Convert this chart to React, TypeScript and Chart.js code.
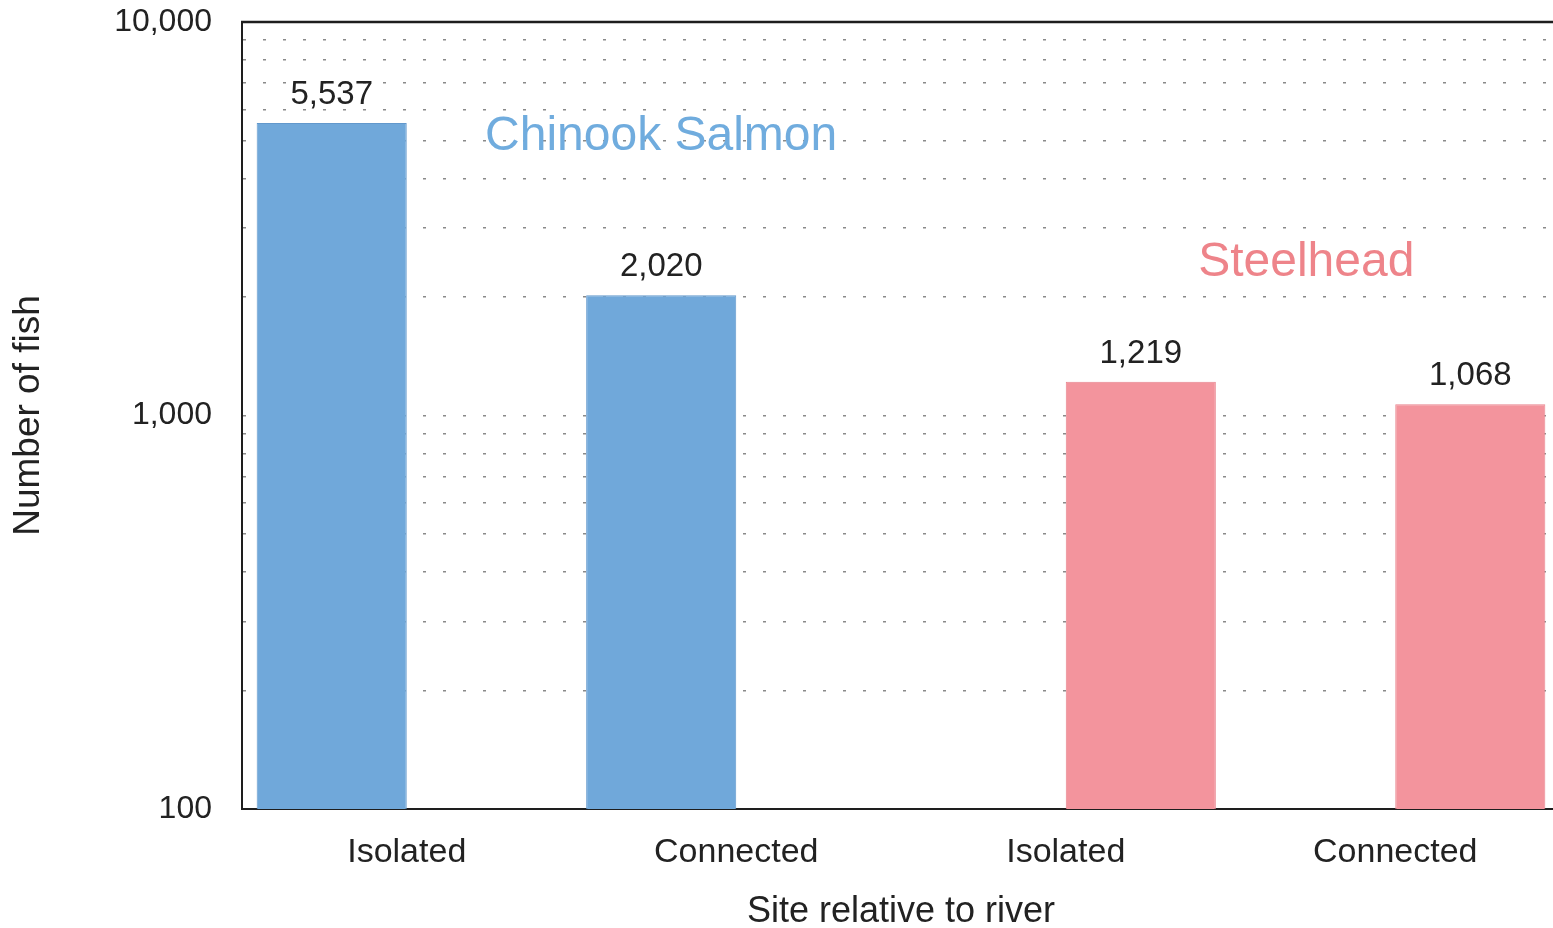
import React, { useEffect, useRef } from "react";
import { Chart, registerables } from "chart.js";

Chart.register(...registerables);

const FONT = '"Liberation Sans", Arial, Helvetica, sans-serif';

const SITE_LABELS = ["Isolated", "Connected", "Isolated", "Connected"];
const CHINOOK_COUNTS = [5537, 2020, null, null];
const STEELHEAD_COUNTS = [null, null, 1219, 1068];
const Y_GRID_VALUES = [
  100, 200, 300, 400, 500, 600, 700, 800, 900,
  1000, 2000, 3000, 4000, 5000, 6000, 7000, 8000, 9000,
  10000,
];
const Y_LABELED_VALUES = [100, 1000, 10000];
const SPECIES_NAMES = ["Chinook Salmon", "Steelhead"];

const BLUE_BAR = "rgb(112,168,218)";
const RED_BAR = "rgb(243,148,157)";
const BLUE_TEXT = "rgb(112,172,222)";
const RED_TEXT = "rgb(238,132,138)";

const valueLabelPlugin = {
  id: "valueLabels",
  afterDatasetsDraw(chart: any) {
    const { ctx } = chart;
    ctx.save();
    ctx.font = `33px ${FONT}`;
    ctx.fillStyle = "#222";
    ctx.textAlign = "center";
    ctx.textBaseline = "alphabetic";
    chart.data.datasets.forEach((ds: any, i: number) => {
      const meta = chart.getDatasetMeta(i);
      meta.data.forEach((bar: any, j: number) => {
        const v = ds.data[j];
        if (v === null || v === undefined) return;
        ctx.fillText(Number(v).toLocaleString("en-US"), bar.x, bar.y - 19);
      });
    });
    ctx.restore();
  },
};

const speciesLabelPlugin = {
  id: "speciesLabels",
  afterDatasetsDraw(chart: any, _args: any, opts: any) {
    const { ctx, scales } = chart;
    ctx.save();
    ctx.font = `48px ${FONT}`;
    ctx.textAlign = "center";
    ctx.textBaseline = "alphabetic";
    (opts.items || []).forEach((item: any) => {
      const x = scales.x.getPixelForValue(item.x);
      const y = scales.y.getPixelForValue(item.y);
      ctx.fillStyle = item.color;
      ctx.fillText(item.text, x, y);
    });
    ctx.restore();
  },
};

const topFramePlugin = {
  id: "topFrame",
  afterDatasetsDraw(chart: any) {
    const { ctx, chartArea } = chart;
    ctx.save();
    ctx.strokeStyle = "#1e1e1e";
    ctx.lineWidth = 2.5;
    ctx.beginPath();
    ctx.moveTo(chartArea.left - 1, chartArea.top);
    ctx.lineTo(chartArea.right, chartArea.top);
    ctx.stroke();
    ctx.restore();
  },
};

export default function App() {
  const canvasRef = useRef<HTMLCanvasElement | null>(null);

  useEffect(() => {
    if (!canvasRef.current) return;
    const chart = new Chart(canvasRef.current, {
      type: "bar",
      data: {
        labels: SITE_LABELS,
        datasets: [
          {
            label: SPECIES_NAMES[0],
            data: CHINOOK_COUNTS,
            backgroundColor: BLUE_BAR,
            borderColor: "rgb(98,152,204)",
            borderWidth: 1,
            categoryPercentage: 0.911,
            barPercentage: 1.0,
          },
          {
            label: SPECIES_NAMES[1],
            data: STEELHEAD_COUNTS,
            backgroundColor: RED_BAR,
            borderColor: "rgb(232,132,142)",
            borderWidth: 1,
            categoryPercentage: 0.911,
            barPercentage: 1.0,
          },
        ],
      },
      options: {
        responsive: false,
        animation: false,
        layout: { padding: { top: 22, right: 10, left: 0, bottom: 0 } },
        plugins: {
          legend: { display: false },
          tooltip: { enabled: false },
          speciesLabels: {
            items: [
              { text: SPECIES_NAMES[0], color: BLUE_TEXT, x: 0.772, y: 4727 },
              { text: SPECIES_NAMES[1], color: RED_TEXT, x: 2.73, y: 2262 },
            ],
          },
        } as any,
        scales: {
          x: {
            type: "category",
            grid: { display: false },
            border: { display: true, color: "#1e1e1e", width: 2 },
            ticks: {
              color: "#222",
              font: { family: FONT, size: 34 },
              padding: 15,
              maxRotation: 0,
              autoSkip: false,
            },
            title: {
              display: true,
              text: "Site relative to river",
              color: "#222",
              font: { family: FONT, size: 36, lineHeight: 0.9 },
              padding: { top: 0, bottom: 0 },
            },
            afterFit: (scale: any) => {
              scale.height = 119;
              scale.paddingLeft = 0;
              scale.paddingRight = 0;
            },
          },
          y: {
            type: "logarithmic",
            min: 100,
            max: 10000,
            afterBuildTicks: (scale: any) => {
              scale.ticks = Y_GRID_VALUES.map((v) => ({
                value: v,
                major: Y_LABELED_VALUES.includes(v),
              }));
            },
            grid: {
              drawTicks: false,
              lineWidth: 1.5,
              color: (ctx: any) =>
                ctx.tick && (ctx.tick.value === 100 || ctx.tick.value === 10000)
                  ? "rgba(0,0,0,0)"
                  : "#8a8a8a",
            },
            border: { display: true, color: "#1e1e1e", width: 2, dash: [3, 17] },
            ticks: {
              color: "#222",
              font: { family: FONT, size: 32 },
              padding: 30,
              autoSkip: false,
              callback: (value: any) =>
                Y_LABELED_VALUES.includes(Number(value))
                  ? Number(value).toLocaleString("en-US")
                  : "",
            },
            title: {
              display: true,
              text: "Number of fish",
              color: "#222",
              font: { family: FONT, size: 37, lineHeight: 1.2 },
              padding: { top: 7, bottom: 0 },
            },
            afterFit: (scale: any) => {
              scale.width = 242;
              scale.paddingTop = 0;
              scale.paddingBottom = 0;
            },
          },
        },
      } as any,
      plugins: [valueLabelPlugin, speciesLabelPlugin, topFramePlugin],
    });
    return () => chart.destroy();
  }, []);

  return (
    <div
      style={{
        position: "fixed",
        left: 0,
        top: 0,
        width: 1553,
        height: 928,
        overflow: "hidden",
        background: "#fff",
      }}
    >
      <canvas ref={canvasRef} width={1570} height={928} style={{ display: "block" }} />
    </div>
  );
}
